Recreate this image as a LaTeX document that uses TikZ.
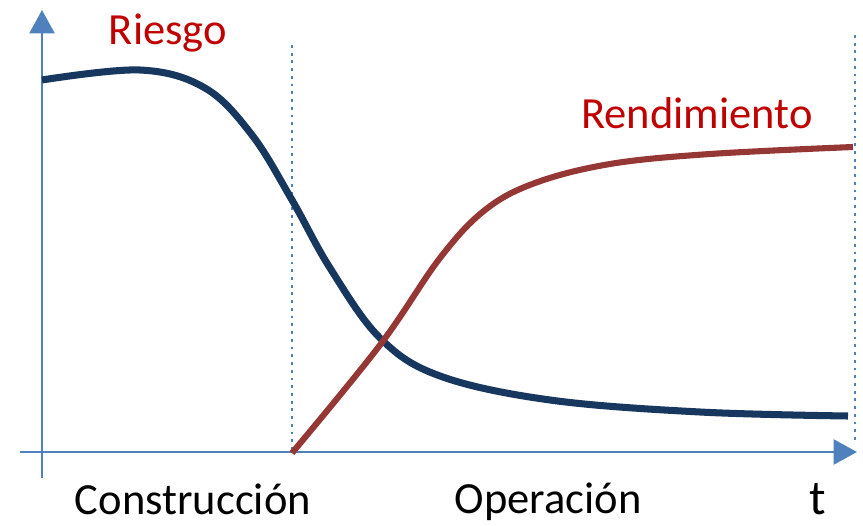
\documentclass[tikz,border=0pt]{standalone}
\usepackage{fontspec}
\setmainfont{Carlito}
\usetikzlibrary{arrows.meta}
\definecolor{axisblue}{RGB}{79,129,189}
\definecolor{riskblue}{RGB}{23,55,94}
\definecolor{yieldred}{RGB}{149,55,53}
\definecolor{labelred}{RGB}{192,0,0}
\tikzset{
  axis/.style={axisblue,line width=2pt,-{Triangle[length=0.7cm,width=0.75cm]}},
  phase/.style={axisblue,line width=2.4pt,dash pattern=on 2.4pt off 4.2pt},
  curvelabel/.style={labelred,font=\fontsize{38}{38}\selectfont},
  phaselabel/.style={black,inner sep=0pt,anchor=base,font=\fontsize{38}{38}\selectfont}
}
\begin{document}
\begin{tikzpicture}[x=0.03cm,y=-0.03cm]
        \useasboundingbox (0,0) rectangle (863,525);
        %% Axes
        \draw[axis] (42,478) -- (42,10);
        \draw[axis] (20,452) -- (857,452);
        %% Phases
        \draw[phase] (292,45) -- (292,452);
        \draw[phase] (855,35) -- (855,442);
        %% Risk
        \draw[riskblue,line width=6pt] plot[smooth,tension=0.6] coordinates {
          (42,80) (140,70) (205,88) (252,135) (292,200) (330,268) (380,338) (440,376) (550,400) (700,412) (848,416)};
        %% Yield
        \draw[yieldred,line width=5.2pt] plot[smooth,tension=0.6] coordinates {
          (292,453) (380,345) (440,258) (485,210) (535,183) (610,164) (710,154) (853,147)};
        %% Labels
        \node[curvelabel] (riesgo) at (168,33) {Riesgo};
        \node[curvelabel] (rendimiento) at (697,113) {Rendimiento};
        \node[phaselabel] (construccion) at (193,514) {Construcción};
        \node[phaselabel] (operacion) at (548,513) {Operación};
        \node[phaselabel,font=\fontsize{42}{42}\selectfont] (tiempo) at (818,514) {t};
    \end{tikzpicture}
\end{document}
